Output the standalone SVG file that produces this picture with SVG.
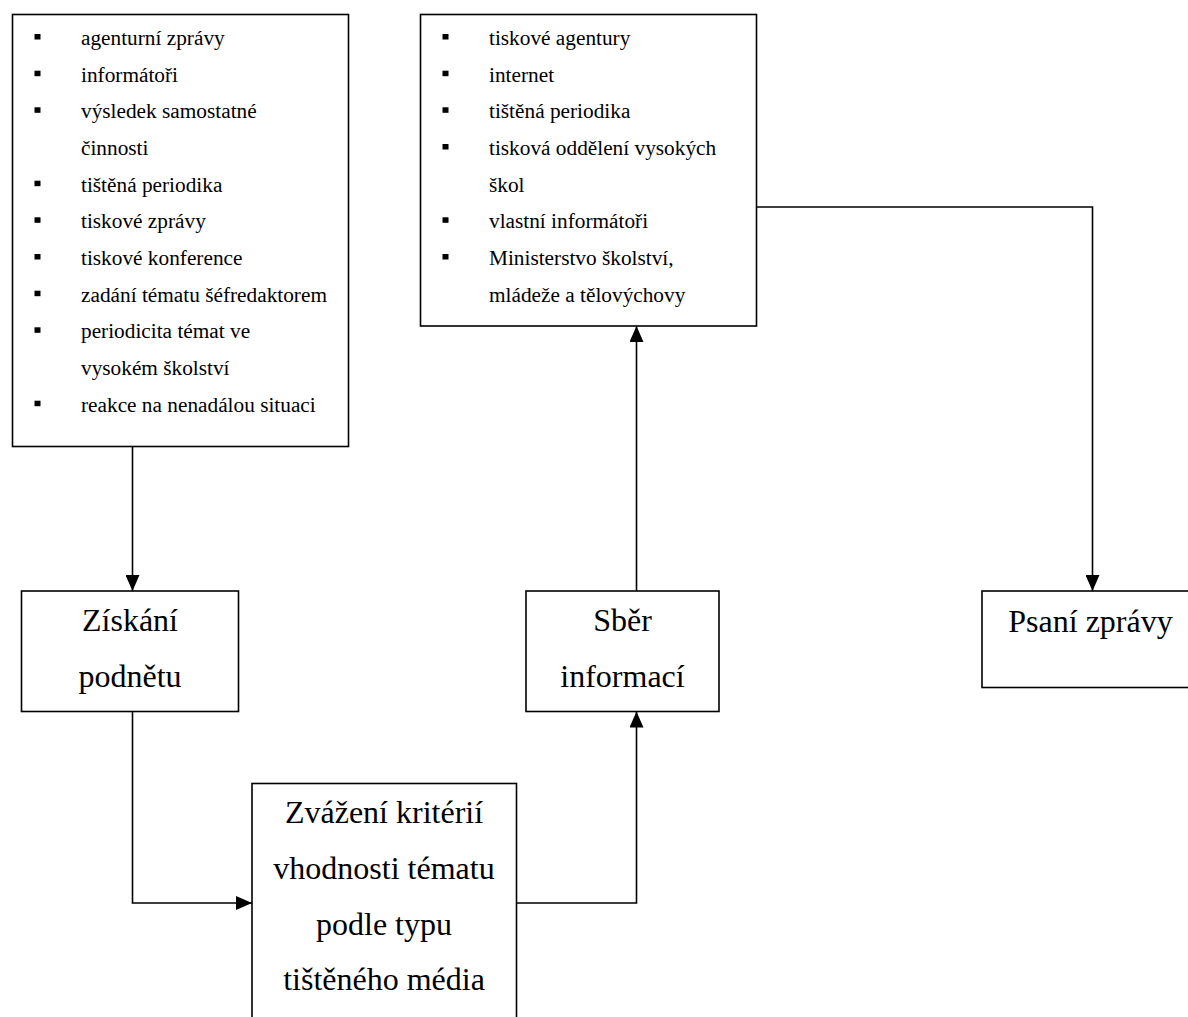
<svg xmlns="http://www.w3.org/2000/svg" width="1188" height="1017" viewBox="0 0 1188 1017">
<style>
.box{fill:#fff;stroke:#000;stroke-width:1.6}
.li{font-family:"Liberation Serif","Times New Roman",serif;font-size:21.3px;fill:#000}
.pt{font-family:"Liberation Serif","Times New Roman",serif;font-size:32px;fill:#000;text-anchor:middle}
.bul{fill:#000}
.con{fill:none;stroke:#000;stroke-width:1.6}
</style>
<defs>
<marker id="arr" viewBox="0 0 16 14" refX="16" refY="7" markerWidth="16" markerHeight="14" markerUnits="userSpaceOnUse" orient="auto">
<path d="M0,0 L16,7 L0,14 z" fill="#000"/>
</marker>
</defs>
<rect width="1188" height="1017" fill="#fff"/>

<g id="connectors">
<path class="con" d="M132.5,446.5 V591" marker-end="url(#arr)"/>
<path class="con" d="M132.5,711.5 V903 H252" marker-end="url(#arr)"/>
<path class="con" d="M516.5,903 H636.5 V711.5" marker-end="url(#arr)"/>
<path class="con" d="M636.5,591 V326" marker-end="url(#arr)"/>
<path class="con" d="M756.5,207 H1092.5 V591" marker-end="url(#arr)"/>
</g>

<g id="sources">
<rect class="box" x="12.5" y="14.5" width="336" height="432"/>
<rect class="bul" x="34.5" y="34" width="6" height="5.5"/>
<text class="li" x="81" y="45">agenturní zprávy</text>
<rect class="bul" x="34.5" y="70.7" width="6" height="5.5"/>
<text class="li" x="81" y="81.7">informátoři</text>
<rect class="bul" x="34.5" y="107.3" width="6" height="5.5"/>
<text class="li" x="81" y="118.3">výsledek samostatné</text>
<text class="li" x="81" y="155">činnosti</text>
<rect class="bul" x="34.5" y="180.7" width="6" height="5.5"/>
<text class="li" x="81" y="191.7">tištěná periodika</text>
<rect class="bul" x="34.5" y="217.3" width="6" height="5.5"/>
<text class="li" x="81" y="228.3">tiskové zprávy</text>
<rect class="bul" x="34.5" y="254" width="6" height="5.5"/>
<text class="li" x="81" y="265">tiskové konference</text>
<rect class="bul" x="34.5" y="290.7" width="6" height="5.5"/>
<text class="li" x="81" y="301.7">zadání tématu šéfredaktorem</text>
<rect class="bul" x="34.5" y="327.3" width="6" height="5.5"/>
<text class="li" x="81" y="338.3">periodicita témat ve</text>
<text class="li" x="81" y="375">vysokém školství</text>
<rect class="bul" x="34.5" y="400.7" width="6" height="5.5"/>
<text class="li" x="81" y="411.7">reakce na nenadálou situaci</text>
</g>

<g id="info-sources">
<rect class="box" x="420.5" y="14.5" width="336" height="311.5"/>
<rect class="bul" x="442.5" y="34" width="6" height="5.5"/>
<text class="li" x="489" y="45">tiskové agentury</text>
<rect class="bul" x="442.5" y="70.7" width="6" height="5.5"/>
<text class="li" x="489" y="81.7">internet</text>
<rect class="bul" x="442.5" y="107.3" width="6" height="5.5"/>
<text class="li" x="489" y="118.3">tištěná periodika</text>
<rect class="bul" x="442.5" y="144" width="6" height="5.5"/>
<text class="li" x="489" y="155">tisková oddělení vysokých</text>
<text class="li" x="489" y="191.7">škol</text>
<rect class="bul" x="442.5" y="217.3" width="6" height="5.5"/>
<text class="li" x="489" y="228.3">vlastní informátoři</text>
<rect class="bul" x="442.5" y="254" width="6" height="5.5"/>
<text class="li" x="489" y="265">Ministerstvo školství,</text>
<text class="li" x="489" y="301.7">mládeže a tělovýchovy</text>
</g>

<g id="ziskani">
<rect class="box" x="21.5" y="591" width="217" height="120.5"/>
<text class="pt" x="130" y="631">Získání</text>
<text class="pt" x="130" y="687">podnětu</text>
</g>

<g id="zvazeni">
<rect class="box" x="252" y="783.5" width="264.5" height="300"/>
<text class="pt" x="384" y="823">Zvážení kritérií</text>
<text class="pt" x="384" y="879">vhodnosti tématu</text>
<text class="pt" x="384" y="934.5">podle typu</text>
<text class="pt" x="384" y="990">tištěného média</text>
</g>

<g id="sber">
<rect class="box" x="526" y="591" width="193" height="120.5"/>
<text class="pt" x="622.5" y="631">Sběr</text>
<text class="pt" x="622.5" y="687">informací</text>
</g>

<g id="psani">
<rect class="box" x="982" y="591" width="260" height="96.5"/>
<text class="pt" x="1090.5" y="632">Psaní zprávy</text>
</g>
</svg>
